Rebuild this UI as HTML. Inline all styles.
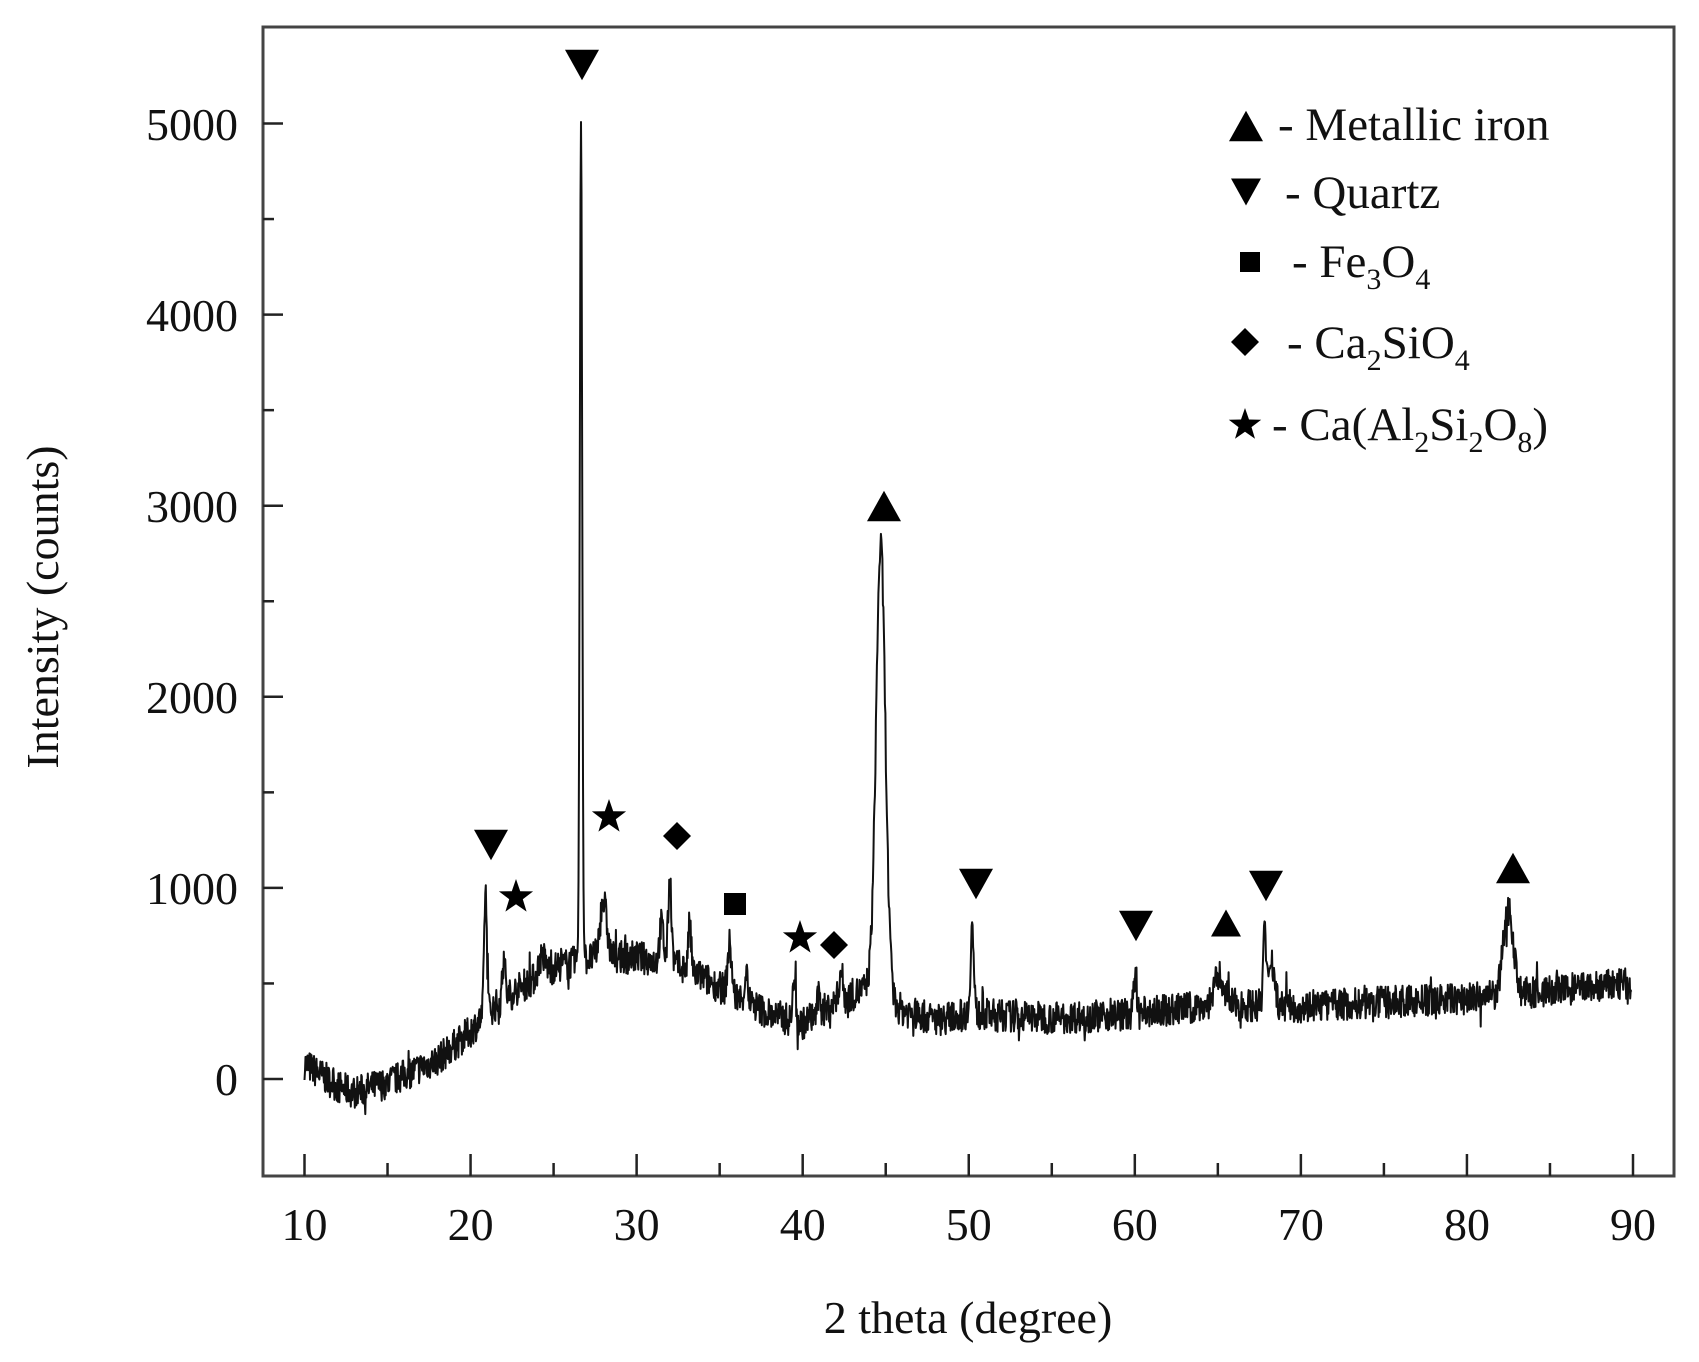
<!DOCTYPE html>
<html><head><meta charset="utf-8"><style>
html,body{margin:0;padding:0;background:#fff;}
svg{display:block;}
text{font-family:"Liberation Serif",serif;fill:#111;}
</style></head><body>
<svg id="s" width="1699" height="1362" viewBox="0 0 1699 1362" xmlns="http://www.w3.org/2000/svg">
<rect x="263" y="27" width="1411" height="1149" fill="none" stroke="#444" stroke-width="3"/>
<g id="ticks" stroke="#222" stroke-width="2.5"></g>
<g font-size="46" text-anchor="end">
<text x="238" y="1095">0</text>
<text x="238" y="904">1000</text>
<text x="238" y="713">2000</text>
<text x="238" y="522">3000</text>
<text x="238" y="331">4000</text>
<text x="238" y="140">5000</text>
</g>
<g font-size="46" text-anchor="middle" id="xl"></g>
<text x="968" y="1333" font-size="46" text-anchor="middle">2 theta (degree)</text>
<text transform="translate(58,607) rotate(-90)" font-size="46" text-anchor="middle">Intensity (counts)</text>
<path id="curve" fill="none" stroke="#111" stroke-width="2" stroke-linejoin="round"/>
<g id="mk" fill="#000"></g>
<g font-size="47">
<text x="1278" y="140">- Metallic iron</text>
<text x="1285" y="208">- Quartz</text>
<text x="1292" y="277">- Fe<tspan font-size="30" dy="12">3</tspan><tspan dy="-12">O</tspan><tspan font-size="30" dy="12">4</tspan></text>
<text x="1287" y="358">- Ca<tspan font-size="30" dy="12">2</tspan><tspan dy="-12">SiO</tspan><tspan font-size="30" dy="12">4</tspan></text>
<text x="1272" y="440">- Ca(Al<tspan font-size="30" dy="12">2</tspan><tspan dy="-12">Si</tspan><tspan font-size="30" dy="12">2</tspan><tspan dy="-12">O</tspan><tspan font-size="30" dy="12">8</tspan><tspan dy="-12">)</tspan></text>
</g>
</svg>
<script>
function X(t){return 304.5+(t-10)*(1633-304.5)/80;}
function Y(v){return 1079-v*0.1911;}
var tk="",xl="";
for(var t=10;t<=90;t+=5){var major=t%10==0;tk+='<line x1="'+X(t)+'" y1="1176" x2="'+X(t)+'" y2="'+(major?1154:1163)+'"/>';
 if(major)xl+='<text x="'+X(t)+'" y="1240">'+t+'</text>';}
for(var v=-500;v<=5500;v+=500){var y=Y(v);if(y<30||y>1174)continue;var major=v%1000==0;tk+='<line x1="263" y1="'+y+'" x2="'+(major?283:274)+'" y2="'+y+'"/>';}
document.getElementById('ticks').innerHTML=tk;
document.getElementById('xl').innerHTML=xl;
var bp=[[10,80],[11,20],[12,-40],[13,-70],[15,-20],[18,100],[20,250],[21,350],[23,480],[25,580],[27,630],[30,640],[33,580],[35,480],[38,340],[40,290],[42,400],[44,480],[46,360],[48,310],[50,340],[55,320],[60,340],[65,390],[70,380],[75,400],[80,420],[85,460],[90,500]];
function base(t){for(var i=0;i<bp.length-1;i++){if(t>=bp[i][0]&&t<=bp[i+1][0]){var f=(t-bp[i][0])/(bp[i+1][0]-bp[i][0]);return bp[i][1]+f*(bp[i+1][1]-bp[i][1]);}}return 500;}
var pk=[[20.9,650,.08],[22.0,250,.08],[24.3,100,.2],[26.65,4400,.07],[28.0,300,.2],[31.5,200,.12],[32.0,450,.1],[33.2,250,.08],[35.6,250,.12],[36.6,150,.1],[39.5,250,.08],[41,100,.1],[42.3,150,.12],[44.7,2350,.28],[50.2,450,.1],[60,200,.08],[65.1,150,.3],[67.8,400,.07],[68.2,250,.2],[82.5,450,.3]];
var seed=7;function r(){seed=(seed*16807)%2147483647;return seed/2147483647;}
var d="";
for(var t=10;t<=89.9;t+=0.03){var v=base(t);for(var j=0;j<pk.length;j++){var p=pk[j];var z=(t-p[0])/p[2];v+=p[1]*Math.exp(-z*z/2);}
 v+=(r()-0.5)*170+(r()<0.05?(r()-0.5)*200:0);d+=(d?"L":"M")+X(t).toFixed(1)+" "+Y(v).toFixed(1);}
document.getElementById('curve').setAttribute('d',d);
function tri(x,y,s,up){var h=s*0.9;return up?'<polygon points="'+x+','+(y-h/2)+' '+(x-s/2)+','+(y+h/2)+' '+(x+s/2)+','+(y+h/2)+'"/>':'<polygon points="'+x+','+(y+h/2)+' '+(x-s/2)+','+(y-h/2)+' '+(x+s/2)+','+(y-h/2)+'"/>';}
function sq(x,y,s){return '<rect x="'+(x-s/2)+'" y="'+(y-s/2)+'" width="'+s+'" height="'+s+'"/>';}
function dia(x,y,s){return '<polygon points="'+x+','+(y-s/2)+' '+(x+s/2)+','+y+' '+x+','+(y+s/2)+' '+(x-s/2)+','+y+'"/>';}
function star(x,y,s){var p=[];for(var i=0;i<10;i++){var a=-Math.PI/2+i*Math.PI/5;var rr=i%2?s*0.2:s*0.5;p.push((x+rr*Math.cos(a)).toFixed(1)+','+(y+rr*Math.sin(a)).toFixed(1));}return '<polygon points="'+p.join(' ')+'"/>';}
var m="";
m+=tri(582,65,34,0)+tri(491,845,34,0)+star(516,897,36)+star(609,817,36)+dia(677,836,28)+sq(735,904,22)+star(800,938,36)+dia(834,945,28)+tri(884,506,34,1)+tri(976,884,34,0)+tri(1136,926,34,0)+tri(1226,923,30,1)+tri(1266,886,34,0)+tri(1513,868,34,1);
m+=tri(1246,126,34,1)+tri(1246,192,30,0)+sq(1250,262,20)+dia(1245,342,28)+star(1245,425,34);
document.getElementById('mk').innerHTML=m;
</script>
</body></html>
